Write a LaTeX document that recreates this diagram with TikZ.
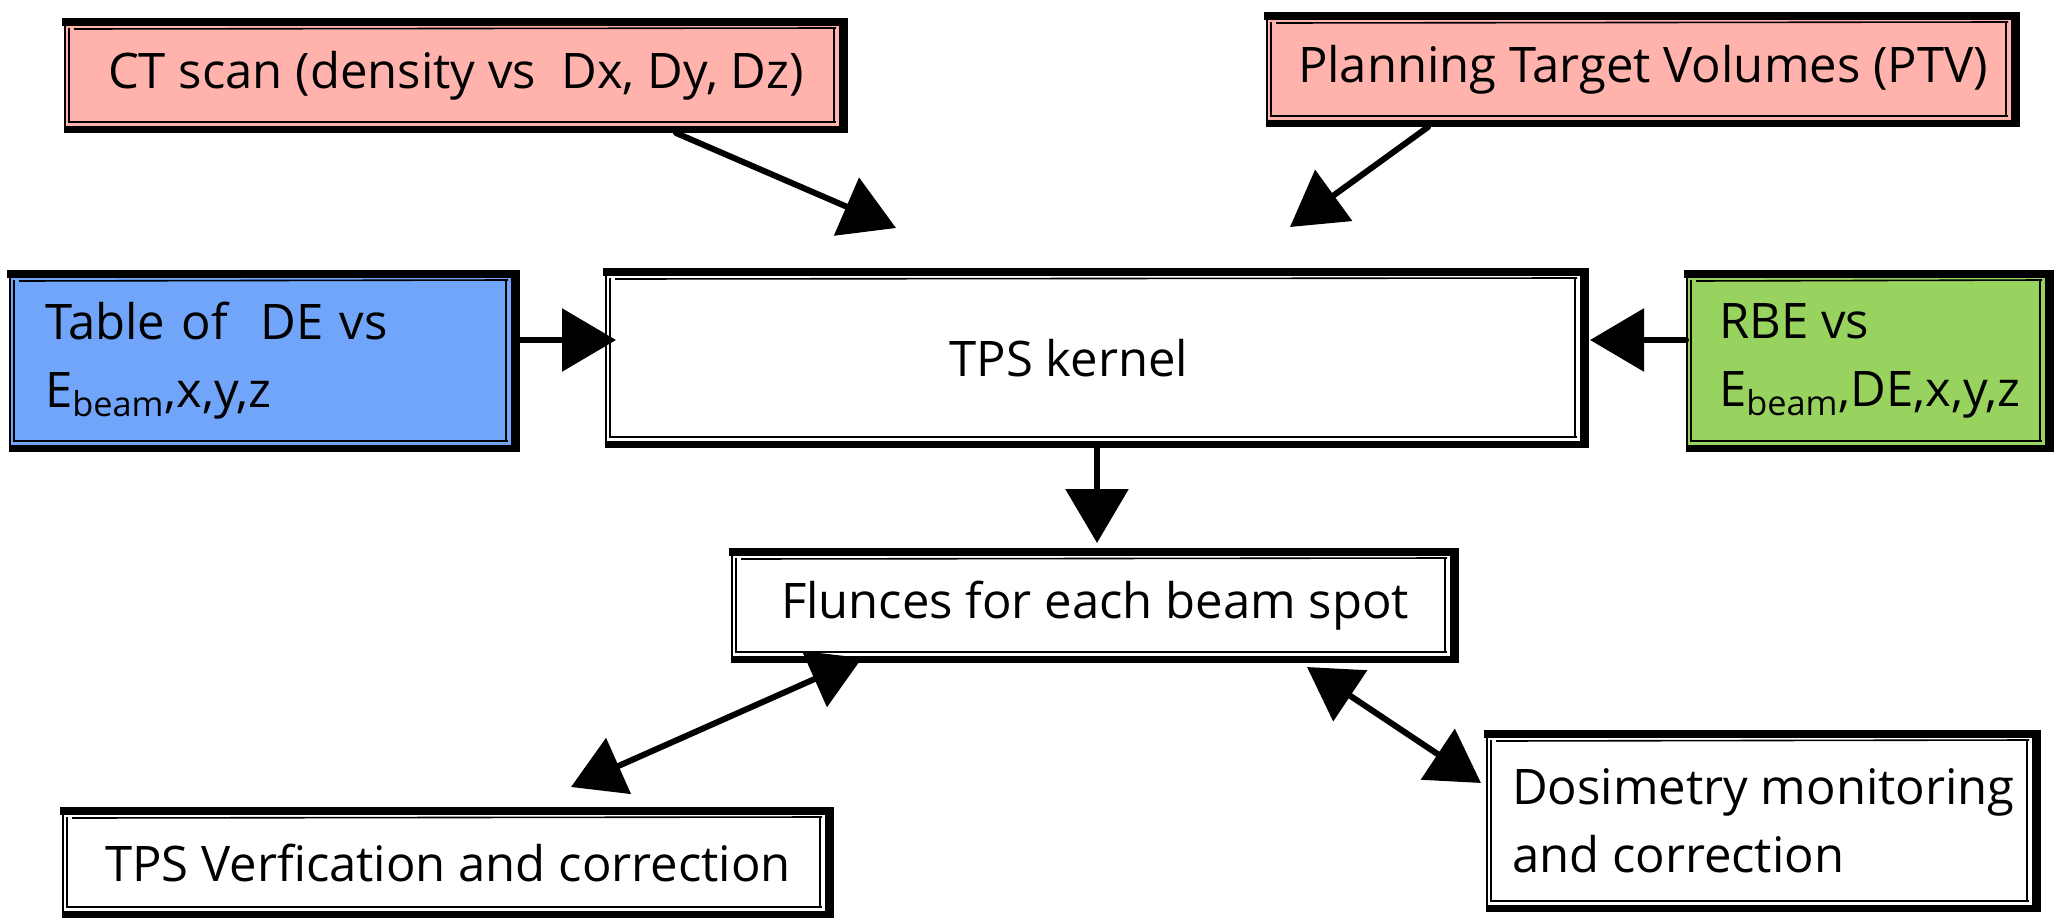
\documentclass[tikz,border=0pt]{standalone}
\usepackage{fontspec}
\setmainfont{Open Sans}
\usetikzlibrary{arrows.meta,calc}

\definecolor{boxpink}{HTML}{FFB3AC}
\definecolor{boxblue}{HTML}{71A5F9}
\definecolor{boxgreen}{HTML}{97D35E}

\tikzset{
  card/.style={inner sep=0pt, outer sep=0pt, fill=white, text=black,
    font=\fontsize{24.5}{34}\selectfont},
  twoline/.style={align=left},
  link/.style={line width=3pt, line cap=round, -{Triangle[length=27pt,width=31pt]}},
  twoway/.style={line width=3pt, {Triangle[length=26pt,width=30pt]}-{Triangle[length=26pt,width=30pt]}},
  band/.style={line width=#1, black},
  band/.default=4pt,
}

% hand-drawn looking frame: heavy top/right/bottom strokes, thin doubled left side
\newcommand\roughframe[1]{%
  \draw[band=4pt] ($(#1.north west)+(-2,4)$) -- ($(#1.north east)+(0,4)$);
  \draw[band=0.8pt] ($(#1.north west)+(10,11)$) -- ($(#1.north east)+(-12,10)$);
  \draw[band=4.5pt] ($(#1.north east)+(-5,0)$) -- ($(#1.south east)+(-5,0)$);
  \draw[band=0.8pt] ($(#1.north east)+(-14,10)$) -- ($(#1.south east)+(-14,-10)$);
  \draw[band=3.5pt] ($(#1.south west)+(0,-4)$) -- ($(#1.south east)+(0,-4)$);
  \draw[band=0.8pt] ($(#1.south west)+(5,-11)$) -- ($(#1.south east)+(-12,-11)$);
  \draw[band=1.2pt] ($(#1.north west)+(1,2)$) -- ($(#1.south west)+(1,0)$);
  \draw[band=0.7pt] ($(#1.north west)+(5,10)$) -- ($(#1.south west)+(5,-10)$);
}

\begin{document}
\begin{tikzpicture}[x=0.5pt,y=-0.5pt]
\useasboundingbox (0,0) rectangle (2056,921);

% boxes
\node[card, fill=boxpink, minimum width=392pt, minimum height=57.5pt] (ct) at (456,75.5)
  {CT scan (density vs\ \ Dx, Dy, Dz)};
\node[card, fill=boxpink, minimum width=377pt, minimum height=57.5pt] (ptv) at (1643,69.5)
  {Planning Target Volumes (PTV)};
\node[card, fill=boxblue, twoline, text width=219.5pt, inner xsep=18pt, minimum height=91pt] (table) at (264.5,361)
  {Table of\ \ DE vs\\E\textsubscript{beam},x,y,z};
\node[card, minimum width=492pt, minimum height=90pt] (kernel) at (1097,358)
  {TPS kernel\hspace*{28pt}};
\node[card, fill=boxgreen, twoline, minimum width=184pt, minimum height=91pt] (rbe) at (1870,361)
  {RBE vs\\E\textsubscript{beam},DE,x,y,z};
\node[card, minimum width=364pt, minimum height=57.5pt] (flu) at (1095,605.5)
  {Flunces for each beam spot};
\node[card, minimum width=386pt, minimum height=55.5pt] (ver) at (448,862.5)
  {TPS Verfication and correction};
\node[card, twoline, minimum width=277.5pt, minimum height=91pt] (dosi) at (1763.5,821)
  {Dosimetry monitoring\\and correction};

\foreach \b in {ct,ptv,table,kernel,rbe,flu,ver,dosi} {\roughframe{\b}}

% connectors
\draw[link] ($(ct.south)+(220,0)$) -- ($(kernel.north)+(-201,-40)$);
\draw[link] ($(ptv.south)+(-215,0)$) -- ($(kernel.north)+(193,-41)$);
\draw[link] ($(table.east)+(0,-21)$) -- ($(kernel.west)+(11,-18)$);
\draw[link] ($(rbe.west)+(0,-21)$) -- ($(kernel.east)+(1,-18)$);
\draw[link] (kernel.south) -- ($(flu.north)+(2,-5)$);
\draw[twoway] ($(flu.south)+(-233,-5)$) -- ($(ver.north)+(123,-20)$);
\draw[twoway] ($(flu.south)+(212,4)$) -- ($(dosi.west)+(-5,-38)$);
\end{tikzpicture}
\end{document}
